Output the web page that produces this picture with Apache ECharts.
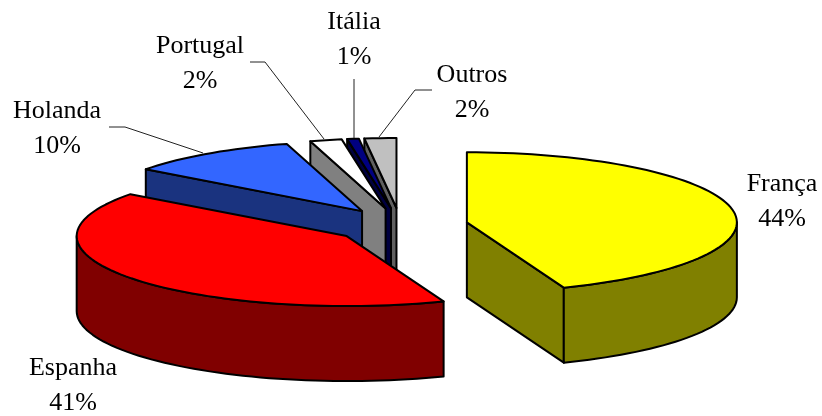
<!DOCTYPE html>
<html><head><meta charset="utf-8">
<style>html,body{margin:0;padding:0;background:#fff}#c{width:822px;height:416px}</style>
<script src="https://cdn.jsdelivr.net/npm/echarts@6/dist/echarts.min.js"></script>
</head><body><div id="c"></div>
<script>
const categories = ['França','Espanha','Holanda','Portugal','Itália','Outros'];
const values = [44.2,41.1,10.3,1.9,0.7,1.9];
const shownPercent = [44,41,10,2,1,2];
const topColors = ['#FFFF00','#FF0000','#3366FF','#FFFFFF','#000080','#C0C0C0'];
const sideColors = ['#808000','#800000','#1A337F','#808080','#000040','#606060'];
// layout only
const labelCenters = [[782,202],[73,386],[57,129],[200,64],[354,40],[472,93]];
const leaders = [null,null,[[109,127],[125,127],[203,153]],[[250,62],[265,62],[324,139]],[[354,79],[354,138]],[[432,90],[415,90],[379,137]]];
const P = {cx:400.5, cy:225.5, rx:270, ry:70, depth:75, explode:0.25};

const total = values.reduce((a,b)=>a+b,0);
let acc = 0;
const spans = values.map(v=>{const s=acc; acc+=v; return [s/total*360,acc/total*360];});
const rad = d=>d*Math.PI/180;

function slice(i){
  const [a0,a1]=spans[i], mid=(a0+a1)/2;
  const ax=P.cx+P.explode*P.rx*Math.sin(rad(mid)), ay=P.cy-P.explode*P.ry*Math.cos(rad(mid));
  const pt=(a,dz=0)=>[ax+P.rx*Math.sin(rad(a)), ay-P.ry*Math.cos(rad(a))+dz];
  const arc=(s,e,dz=0)=>{const n=Math.max(2,Math.ceil((e-s)/2)),o=[];for(let k=0;k<=n;k++)o.push(pt(s+(e-s)*k/n,dz));return o;};
  const apex=[ax,ay], apexB=[ax,ay+P.depth];
  const style={stroke:'#000',lineWidth:2,lineJoin:'round'};
  const kids=[];
  const poly=(points,fill)=>kids.push({type:'polygon',silent:true,shape:{points},style:Object.assign({fill},style)});
  // visible cut faces
  if(Math.cos(rad(a0-90))<0) poly([apex,pt(a0),pt(a0,P.depth),apexB],sideColors[i]);
  if(Math.cos(rad(a1+90))<0) poly([apex,pt(a1),pt(a1,P.depth),apexB],sideColors[i]);
  // visible outer wall
  const ws=Math.max(a0,90), we=Math.min(a1,270);
  if(we>ws) poly(arc(ws,we).concat(arc(ws,we,P.depth).reverse()),sideColors[i]);
  // top face
  poly([apex].concat(arc(a0,a1)),topColors[i]);
  return kids;
}
function annotation(i){
  const kids=[{type:'text',silent:true,x:labelCenters[i][0],y:labelCenters[i][1],
    style:{text:categories[i]+'\n'+shownPercent[i]+'%',fill:'#000',font:'26px "Liberation Serif"',align:'center',verticalAlign:'middle',lineHeight:35}}];
  if(leaders[i]) kids.push({type:'polyline',silent:true,shape:{points:leaders[i]},style:{fill:'none',stroke:'#222',lineWidth:1}});
  return kids;
}
// painter's order: back slices first
const drawOrder=[5,4,3,2,1,0];
const chart=echarts.init(document.getElementById('c'),null,{renderer:'canvas'});
chart.setOption({
  animation:false,
  backgroundColor:'#fff',
  series:[{
    type:'custom',coordinateSystem:'none',silent:true,
    data:drawOrder.map(i=>[i,values[i]]),
    renderItem:(params,api)=>{
      const i=api.value(0);
      return {type:'group',children:slice(i).concat(annotation(i))};
    }
  }]
});
</script></body></html>
